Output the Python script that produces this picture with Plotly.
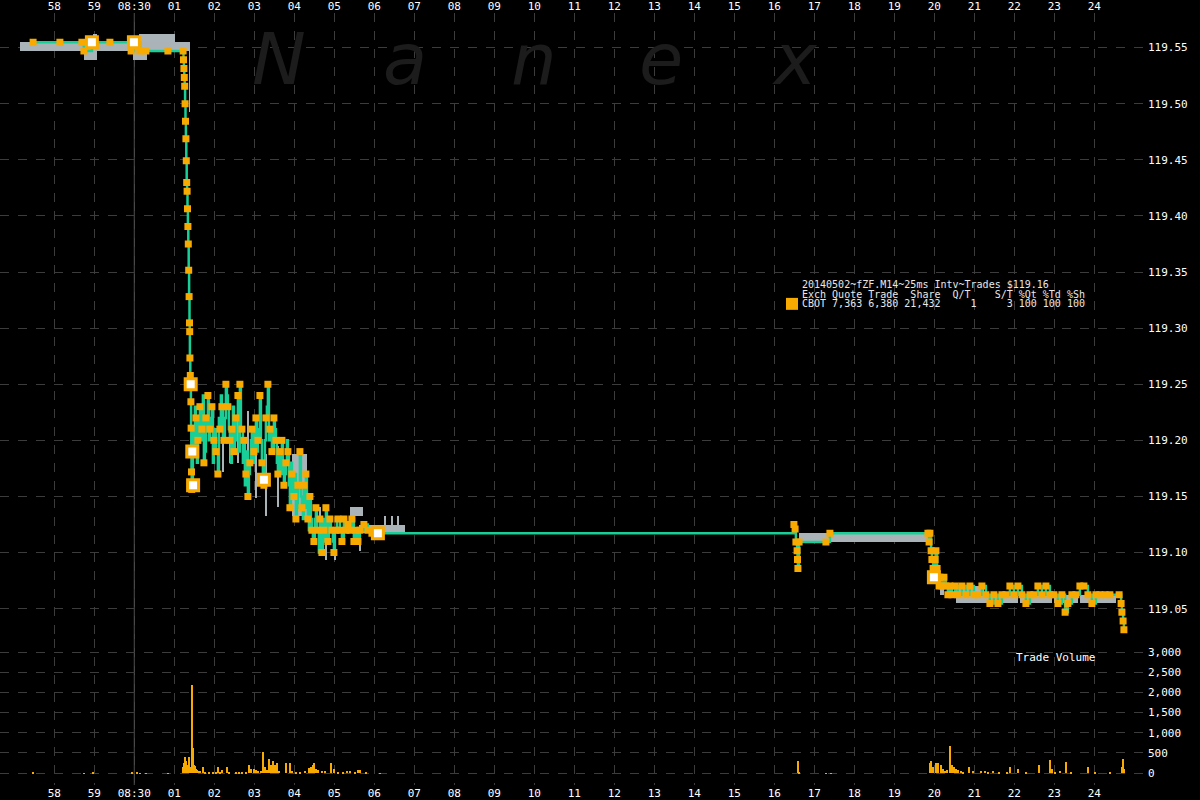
import plotly.graph_objects as go

# ---------------- DATA (minutes relative to 08:30:00) ----------------
TRADE_TIME = [
    -2.53, -1.86, -1.31, -1.26, -1.06, -0.61, -0.08, -0.01, 0.07, 0.14, 0.29, 0.84, 1.22,
    1.23, 1.24, 1.25, 1.26, 1.27, 1.28, 1.29, 1.30, 1.31, 1.32, 1.33, 1.34, 1.35, 1.36,
    1.37, 1.38, 1.385, 1.39, 1.40, 1.41, 1.415, 1.42, 1.425, 1.43, 1.435,
    1.44, 1.49, 1.54, 1.59, 1.64, 1.69, 1.74, 1.79, 1.84, 1.89, 1.94, 1.99, 2.04, 2.09,
    2.14, 2.19, 2.24, 2.29, 2.34, 2.39, 2.44, 2.49, 2.54, 2.59, 2.64, 2.69, 2.74, 2.79,
    2.84, 2.89, 2.94, 2.99, 3.04, 3.09, 3.14, 3.19, 3.24, 3.29, 3.34, 3.39, 3.44, 3.49,
    3.54, 3.59, 3.64, 3.69, 3.74, 3.79, 3.84, 3.89, 3.94, 3.99, 4.04, 4.09, 4.14, 4.19,
    4.24, 4.29, 4.34, 4.39, 4.44, 4.49, 4.54, 4.59, 4.64, 4.69, 4.74, 4.79, 4.84, 4.89,
    4.94, 4.99, 5.04, 5.09, 5.14, 5.19, 5.24, 5.29, 5.34, 5.39, 5.44, 5.49, 5.54, 5.59,
    5.64, 5.74, 5.84, 5.94, 6.09,
    16.49, 16.52, 16.54, 16.57, 16.58, 16.59, 16.62, 17.29, 17.39,
    19.84, 19.87, 19.89, 19.92, 19.94, 19.97, 19.99, 20.02, 20.04, 20.07, 20.09, 20.12,
    20.14, 20.19, 20.24, 20.29, 20.34, 20.39, 20.44, 20.52, 20.59, 20.69, 20.79, 20.89,
    20.99, 21.09, 21.19, 21.29, 21.39, 21.49, 21.59, 21.69, 21.79, 21.89, 21.99, 22.09,
    22.19, 22.29, 22.39, 22.49, 22.59, 22.69, 22.79, 22.89, 22.99, 23.09, 23.19, 23.27,
    23.34, 23.44, 23.54, 23.64, 23.74, 23.84, 23.94, 24.04, 24.14, 24.27, 24.39, 24.62,
    24.67, 24.69, 24.72, 24.74,
]
TRADE_PRICE = [
    119.5547, 119.5547, 119.5547, 119.5469, 119.5547, 119.5547, 119.5469, 119.5547, 119.5547,
    119.5469, 119.5469, 119.5469, 119.5469,
    119.5391, 119.5313, 119.5234, 119.5156, 119.5000, 119.4844, 119.4688, 119.4492, 119.4297,
    119.4219, 119.4063, 119.3906, 119.3750, 119.3516, 119.3281, 119.3047, 119.2969, 119.2734,
    119.2578, 119.2500, 119.2344, 119.2109, 119.1875, 119.1719, 119.1563,
    119.16, 119.19, 119.22, 119.20, 119.23, 119.21, 119.18, 119.22, 119.24, 119.21, 119.23,
    119.20, 119.19, 119.17, 119.21, 119.23, 119.20, 119.25, 119.23, 119.20, 119.21, 119.19,
    119.22, 119.24, 119.25, 119.21, 119.20, 119.17, 119.15, 119.18, 119.21, 119.19, 119.22,
    119.20, 119.24, 119.18, 119.16, 119.22, 119.25, 119.21, 119.19, 119.22, 119.20, 119.17,
    119.19, 119.20, 119.16, 119.18, 119.19, 119.14, 119.17, 119.15, 119.13, 119.16, 119.19,
    119.14, 119.16, 119.17, 119.13, 119.15, 119.12, 119.11, 119.14, 119.12, 119.13, 119.10,
    119.12, 119.14, 119.11, 119.13, 119.12, 119.10, 119.12, 119.13, 119.12, 119.11, 119.13,
    119.12, 119.125, 119.12, 119.13, 119.11, 119.12, 119.11, 119.12,
    119.125, 119.12, 119.1172, 119.1172,
    119.1250, 119.1211, 119.1094, 119.1016, 119.0938, 119.0859, 119.1094, 119.1094, 119.1172,
    119.1172, 119.1094, 119.1172, 119.1016, 119.0938, 119.0859, 119.0781, 119.0938, 119.1016,
    119.0859, 119.0781, 119.0703, 119.0781, 119.0703, 119.0781, 119.0703, 119.0625, 119.0703,
    119.0625, 119.0703, 119.0625, 119.0703, 119.0625, 119.0703, 119.0625, 119.0625, 119.0703,
    119.0625, 119.0547, 119.0625, 119.0547, 119.0625, 119.0625, 119.0703, 119.0625, 119.0703,
    119.0625, 119.0547, 119.0625, 119.0625, 119.0703, 119.0625, 119.0703, 119.0625, 119.0625,
    119.0547, 119.0625, 119.0469, 119.0547, 119.0625, 119.0625, 119.0703, 119.0703, 119.0625,
    119.0547, 119.0625, 119.0625, 119.0625, 119.0625, 119.0625, 119.0547, 119.0469, 119.0391,
    119.0313,
]

# additional (odd-lot) price changes during the 08:31-08:35 churn, line only
CHURN_TIME = [
    1.465, 1.515, 1.565, 1.615, 1.665, 1.715, 1.765, 1.815, 1.865, 1.915, 1.965, 2.015,
    2.065, 2.115, 2.165, 2.215, 2.265, 2.315, 2.365, 2.415, 2.465, 2.515, 2.565, 2.615,
    2.665, 2.715, 2.765, 2.815, 2.865, 2.915, 2.965, 3.015, 3.065, 3.115, 3.165, 3.215,
    3.265, 3.315, 3.365, 3.415, 3.465, 3.515, 3.565, 3.615, 3.665, 3.715, 3.765, 3.815,
    3.865, 3.915, 3.965, 4.015, 4.065, 4.115, 4.165, 4.215, 4.265, 4.315, 4.365, 4.415,
    4.465, 4.515, 4.565, 4.615, 4.665, 4.715, 4.765, 4.815, 4.865, 4.915, 4.965, 5.015,
    5.065,
]
CHURN_PRICE = [
    119.21, 119.23, 119.18, 119.22, 119.20, 119.24, 119.19, 119.21, 119.20, 119.22, 119.18,
    119.21, 119.19, 119.22, 119.24, 119.20, 119.22, 119.24, 119.21, 119.18, 119.23, 119.20,
    119.22, 119.19, 119.21, 119.18, 119.16, 119.19, 119.17, 119.20, 119.18, 119.21, 119.19,
    119.21, 119.20, 119.17, 119.20, 119.23, 119.20, 119.21, 119.19, 119.21, 119.18, 119.19,
    119.17, 119.18, 119.17, 119.20, 119.16, 119.18, 119.15, 119.17, 119.14, 119.16, 119.15,
    119.13, 119.14, 119.15, 119.12, 119.13, 119.11, 119.13, 119.12, 119.10, 119.12, 119.13,
    119.11, 119.12, 119.13, 119.12, 119.11, 119.12, 119.13,
]

BLOCK_TIME = [-1.06, -0.01, 1.41, 1.45, 1.47, 3.24, 6.09, 19.99]
BLOCK_PRICE = [119.5547, 119.5547, 119.25, 119.19, 119.16, 119.165, 119.1172, 119.0781]

QUOTE_START = [-2.86, -1.26, -1.03, -0.93, -0.03, 0.12, 1.02, 1.37,
               2.20, 2.39, 2.59, 2.84, 3.04, 3.27, 3.57, 3.94, 4.64, 4.79, 5.01, 5.39,
               5.64, 5.72, 6.26, 6.44, 6.59,
               16.62,
               20.14, 20.55, 21.25, 22.15, 23.00, 23.30, 23.65]
QUOTE_END = [-1.26, -0.93, -0.93, -0.03, 0.32, 1.02, 1.39, 1.39,
             2.23, 2.42, 2.62, 2.87, 3.07, 3.30, 3.60, 4.32, 4.67, 4.81, 5.04, 5.72,
             5.66, 6.77, 6.30, 6.47, 6.62,
             19.84,
             20.24, 21.25, 22.10, 22.95, 23.60, 23.35, 24.55]
QUOTE_BID = [119.5469, 119.5391, 119.5469, 119.5469, 119.5391, 119.5469, 119.5469, 119.4922,
             119.1719, 119.1797, 119.1797, 119.1563, 119.1484, 119.1328, 119.1406, 119.1328,
             119.1016, 119.0938, 119.0938, 119.1328, 119.1016, 119.1172, 119.1172, 119.1172,
             119.1172,
             119.1094,
             119.0625, 119.0547, 119.0547, 119.0547, 119.0547, 119.0469, 119.0547]
QUOTE_ASK = [119.5547, 119.5547, 119.5625, 119.5547, 119.5547, 119.5625, 119.5547, 119.5469,
             119.2188, 119.2109, 119.2188, 119.2266, 119.2031, 119.1875, 119.1953, 119.1875,
             119.1406, 119.1250, 119.1172, 119.1406, 119.1250, 119.1250, 119.1328, 119.1328,
             119.1328,
             119.1172,
             119.0703, 119.0703, 119.0625, 119.0625, 119.0625, 119.0547, 119.0625]

VOL_TIME = [-2.53, -1.26, -1.03, -0.06, 0.07, 0.14, 0.29, 0.84,
            1.22, 1.24, 1.27, 1.29, 1.32, 1.34, 1.37, 1.39, 1.42, 1.44, 1.47, 1.49, 1.52,
            1.54, 1.57, 1.59, 1.64, 1.72, 1.77, 1.87, 1.97, 2.04, 2.09, 2.14, 2.19, 2.32,
            2.37, 2.54, 2.62, 2.70, 2.79, 2.87, 2.92, 2.99, 3.04, 3.09, 3.17, 3.22, 3.27,
            3.32, 3.37, 3.42, 3.47, 3.52, 3.57, 3.62, 3.79, 3.89, 3.94, 4.04, 4.14, 4.27,
            4.37, 4.42, 4.47, 4.49, 4.54, 4.59, 4.69, 4.77, 4.92, 4.99, 5.09, 5.22, 5.32,
            5.39, 5.52, 5.59, 5.64, 5.79, 6.14,
            16.59, 16.62, 17.29, 17.41,
            19.89, 19.92, 19.97, 20.04, 20.09, 20.17, 20.22, 20.27, 20.32, 20.39, 20.44,
            20.49, 20.54, 20.59, 20.67, 20.72, 20.87, 20.97, 21.17, 21.27, 21.34, 21.47,
            21.62, 21.82, 21.89, 22.09, 22.30, 22.62, 22.89, 22.94, 23.02, 23.14, 23.29,
            23.42, 23.84, 24.02, 24.40, 24.69, 24.72, 24.74]
VOL_SIZE = [20, 10, 30, 15, 15, 10, 10, 10,
            150, 250, 400, 300, 200, 180, 400, 150, 120, 2200, 620, 200, 180,
            120, 80, 60, 50, 150, 40, 20, 30, 40, 150, 30, 80, 150,
            40, 20, 15, 15, 40, 220, 100, 120, 80, 60, 60, 540, 150,
            80, 350, 220, 300, 200, 250, 60, 270, 270, 60, 30, 40, 60,
            130, 150, 200, 250, 100, 80, 60, 60, 250, 100, 30, 40, 60,
            50, 40, 80, 80, 20, 10,
            300, 30, 10, 10,
            250, 320, 150, 270, 270, 200, 100, 60, 80, 670, 200,
            150, 100, 80, 50, 40, 150, 60, 70, 50, 40, 60,
            20, 40, 150, 120, 20, 200, 330, 100, 40, 60, 280,
            30, 150, 30, 20, 150, 350, 100]

OPEN_TIME = 0
TICK_MINUTES = [-2, -1, 0, 1, 2, 3, 4, 5, 6, 7, 8, 9, 10, 11, 12, 13, 14, 15, 16, 17, 18,
                19, 20, 21, 22, 23, 24]
TICK_LABELS = ["58", "59", "08:30", "01", "02", "03", "04", "05", "06", "07", "08", "09",
               "10", "11", "12", "13", "14", "15", "16", "17", "18", "19", "20", "21",
               "22", "23", "24"]
PRICE_TICKS = [119.05, 119.10, 119.15, 119.20, 119.25, 119.30, 119.35, 119.40, 119.45,
               119.50, 119.55]
VOLUME_TICKS = [0, 500, 1000, 1500, 2000, 2500, 3000]

TITLE_LINE = "20140502~fZF.M14~25ms Intv~Trades $119.16"
HEADER_LINE = "Exch Quote Trade  Share  Q/T    S/T %Qt %Td %Sh"
ROW_LINE = "CBOT 7,363 6,380 21,432     1     3 100 100 100"
WATERMARK = ["N", "a", "n", "e", "x"]

# ---------------- STYLE ----------------
ORANGE = "#f8aa00"
GREEN = "#19cf98"
GREY = "#aab4b8"
GRID = "#3c3c3c"
MONO = "DejaVu Sans Mono"

# merge all price changes in time order for the trade line
all_prints = sorted(zip(TRADE_TIME + CHURN_TIME, TRADE_PRICE + CHURN_PRICE))
t_all = [p[0] for p in all_prints]
p_all = [p[1] for p in all_prints]

quote_center = [(s + e) / 2 for s, e in zip(QUOTE_START, QUOTE_END)]
quote_width = [e - s for s, e in zip(QUOTE_START, QUOTE_END)]
quote_spread = [a - b for a, b in zip(QUOTE_ASK, QUOTE_BID)]

fig = go.Figure()
fig.add_trace(go.Bar(x=quote_center, y=quote_spread, base=QUOTE_BID, width=quote_width,
                     marker=dict(color=GREY, line=dict(width=0)), yaxis="y",
                     hoverinfo="skip", showlegend=False))
fig.add_trace(go.Scatter(x=t_all, y=p_all, mode="lines",
                         line=dict(color=GREEN, width=2.5, shape="hv"),
                         yaxis="y", hoverinfo="skip", showlegend=False))
fig.add_trace(go.Scatter(x=TRADE_TIME, y=TRADE_PRICE, mode="markers",
                         marker=dict(symbol="square", size=7, color=ORANGE, line=dict(width=0)),
                         yaxis="y", showlegend=False))
fig.add_trace(go.Scatter(x=BLOCK_TIME, y=BLOCK_PRICE, mode="markers",
                         marker=dict(symbol="square", size=11, color="white",
                                     line=dict(color=ORANGE, width=3)),
                         yaxis="y", showlegend=False))
fig.add_trace(go.Bar(x=VOL_TIME, y=VOL_SIZE, width=0.035,
                     marker=dict(color=ORANGE, line=dict(width=0)), yaxis="y2",
                     showlegend=False))
# dummy trace so the top time axis renders
fig.add_trace(go.Scatter(x=[TICK_MINUTES[0], TICK_MINUTES[-1]], y=[PRICE_TICKS[0], PRICE_TICKS[0]],
                         xaxis="x2", yaxis="y", mode="lines", line=dict(width=0),
                         hoverinfo="skip", showlegend=False))

# session-open reference line across the full chart height
fig.add_shape(type="line", xref="x", yref="paper", x0=OPEN_TIME, x1=OPEN_TIME, y0=0, y1=1,
              line=dict(color="#5a5a5a", width=1), layer="below")

split = 0.18968
axis_font = dict(family=MONO, size=11, color="white")
fig.update_layout(
    width=1200, height=800,
    margin=dict(l=0, r=53, t=12, b=13),
    paper_bgcolor="black", plot_bgcolor="black",
    barmode="overlay", bargap=0,
    xaxis=dict(range=[-3.3575, 25.3175], tickmode="array", tickvals=TICK_MINUTES,
               ticktext=TICK_LABELS, showgrid=True, gridcolor=GRID, griddash="dash",
               gridwidth=1, zeroline=False, showline=False, ticks="", tickfont=axis_font,
               anchor="y2"),
    xaxis2=dict(range=[-3.3575, 25.3175], matches="x", overlaying="x", side="top",
                tickmode="array", tickvals=TICK_MINUTES, ticktext=TICK_LABELS,
                showgrid=False, zeroline=False, showline=False, ticks="",
                tickfont=axis_font, anchor="y"),
    yaxis=dict(domain=[split, 1], range=[119.0234, 119.5808], side="right",
               tickmode="array", tickvals=PRICE_TICKS, tickformat=".2f",
               showgrid=True, gridcolor=GRID, griddash="dash", zeroline=False,
               showline=False, ticks="", tickfont=axis_font),
    yaxis2=dict(domain=[0, split], range=[-296, 3333], side="right",
                tickmode="array", tickvals=VOLUME_TICKS, tickformat=",d",
                showgrid=True, gridcolor=GRID, griddash="dash", zeroline=False,
                showline=False, ticks="", tickfont=axis_font),
)

PW, PH, TOP = 1147.0, 775.0, 12.0
def px(x):
    return x / PW
def py(y):
    return (TOP + PH - y) / PH

annotations = []
for letter, cx in zip(WATERMARK, [279, 405, 534, 661, 795]):
    annotations.append(dict(text=letter, x=px(cx), y=py(58), xref="paper", yref="paper",
                            xanchor="center", yanchor="middle", showarrow=False,
                            font=dict(family="DejaVu Sans", size=72, color="#1c1c1c",
                                      style="italic")))
for line, yy in zip([TITLE_LINE, HEADER_LINE, ROW_LINE], [285, 295, 304]):
    annotations.append(dict(text=line.replace(" ", "\u00a0"), x=px(800), y=py(yy),
                            xref="paper", yref="paper", xanchor="left", yanchor="middle",
                            showarrow=False, font=dict(family=MONO, size=10, color="#e8e8e8")))
annotations.append(dict(text="Trade\u00a0Volume", x=px(1055), y=py(659), xref="paper",
                        yref="paper", xanchor="center", yanchor="middle", showarrow=False,
                        font=dict(family=MONO, size=11, color="white")))
fig.update_layout(annotations=annotations)
fig.add_shape(type="rect", xref="paper", yref="paper", x0=px(786), x1=px(798),
              y0=py(310), y1=py(298), fillcolor=ORANGE, line=dict(width=0))

fig.write_html("out.html", config={"displayModeBar": False},
               post_script="document.body.style.margin='0';")
